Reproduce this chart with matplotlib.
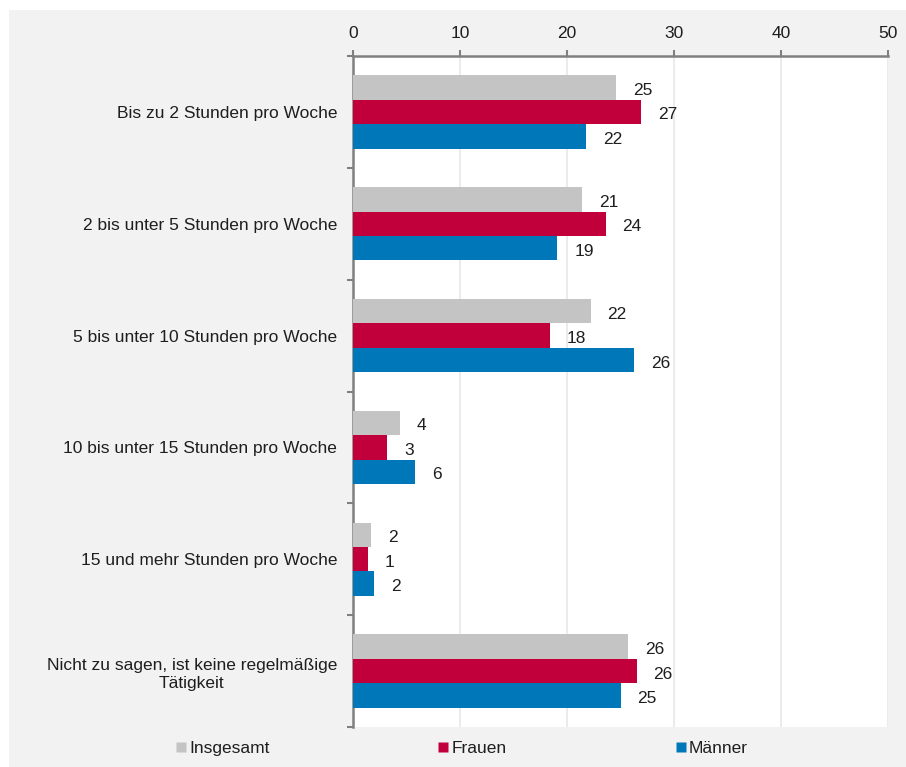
import matplotlib
matplotlib.use("Agg")
import matplotlib.pyplot as plt
from matplotlib.patches import Rectangle
from matplotlib.lines import Line2D
import numpy as np

categories = [
    "Bis zu 2 Stunden pro Woche",
    "2 bis unter 5 Stunden pro Woche",
    "5 bis unter 10 Stunden pro Woche",
    "10 bis unter 15 Stunden pro Woche",
    "15 und mehr Stunden pro Woche",
    "Nicht zu sagen, ist keine regelmäßige\nTätigkeit",
]
series_names = ["Insgesamt", "Frauen", "Männer"]
insgesamt = [24.6, 21.4, 22.2, 4.4, 1.7, 25.7]
frauen = [26.9, 23.6, 18.4, 3.2, 1.4, 26.5]
maenner = [21.8, 19.1, 26.3, 5.8, 2.0, 25.0]
x_ticks = [0, 10, 20, 30, 40, 50]

colors = ["#c4c4c4", "#c1003b", "#0077b8"]
text_color = "#1e1e1e"
fs = 12.5
plt.rcParams["font.family"] = ["Liberation Sans", "DejaVu Sans"]
plt.rcParams["font.size"] = fs

W, H = 906, 767
fig = plt.figure(figsize=(W / 100, H / 100), dpi=100, facecolor="white")

# light grey panel behind the chart
fig.patches.append(Rectangle((9 / W, 0), 1 - 9 / W, 1 - 10 / H,
                             transform=fig.transFigure, facecolor="#f2f2f2",
                             edgecolor="none", zorder=-10))

left, right, top, bottom = 353, 888, 56, 727
ax = fig.add_axes([left / W, 1 - bottom / H, (right - left) / W, (bottom - top) / H])
ax.set_facecolor("white")

n = len(categories)
y = np.arange(n)
bar_h = 0.219
values = [insgesamt, frauen, maenner]
for k, (vals, col, name) in enumerate(zip(values, colors, series_names)):
    pos = y + (k - 1) * bar_h
    bars = ax.barh(pos, vals, height=bar_h, color=col, label=name, zorder=3)
    for b, v in zip(bars, vals):
        ax.annotate(f"{v:.0f}", xy=(v, b.get_y() + b.get_height() / 2),
                    xytext=(17, -3), textcoords="offset pixels",
                    ha="left", va="center", fontsize=fs, color=text_color)

ax.set_xlim(0, 50)
ax.set_ylim(n - 0.5, -0.5)

ax.xaxis.tick_top()
ax.set_xticks(x_ticks)
ax.set_xticklabels([str(t) for t in x_ticks])
ax.tick_params(axis="x", direction="out", length=4, width=1.5, color="#808080",
               labelcolor=text_color, labelsize=fs, pad=7)
ax.grid(axis="x", color="#e8e8e8", linewidth=1.2, zorder=0)

# boundary ticks between categories, labels centered on each group
ax.set_yticks(np.arange(-0.5, n, 1.0))
ax.set_yticklabels([])
ax.set_yticks(y, minor=True)
ax.set_yticklabels(categories, minor=True, ha="right", multialignment="center",
                   linespacing=1.25)
ax.tick_params(axis="y", which="major", direction="out", length=4, width=1.5,
               color="#808080")
ax.tick_params(axis="y", which="minor", length=0, pad=11.5, labelsize=fs,
               labelcolor=text_color)

for s in ["right", "bottom"]:
    ax.spines[s].set_visible(False)
for s in ["top", "left"]:
    ax.spines[s].set_color("#808080")
    ax.spines[s].set_linewidth(1.8)

handles = [Line2D([0], [0], marker="s", linestyle="none", markersize=7,
                  markerfacecolor=c, markeredgecolor="none") for c in colors]
fig.legend(handles, series_names, loc="center left", ncol=3,
           bbox_to_anchor=(176 / W, 1 - 748 / H), frameon=False,
           handlelength=0.55, handletextpad=0.2, columnspacing=9.75,
           fontsize=fs, labelcolor=text_color, borderaxespad=0, borderpad=0)

fig.savefig("out.png", dpi=100, facecolor="white")
